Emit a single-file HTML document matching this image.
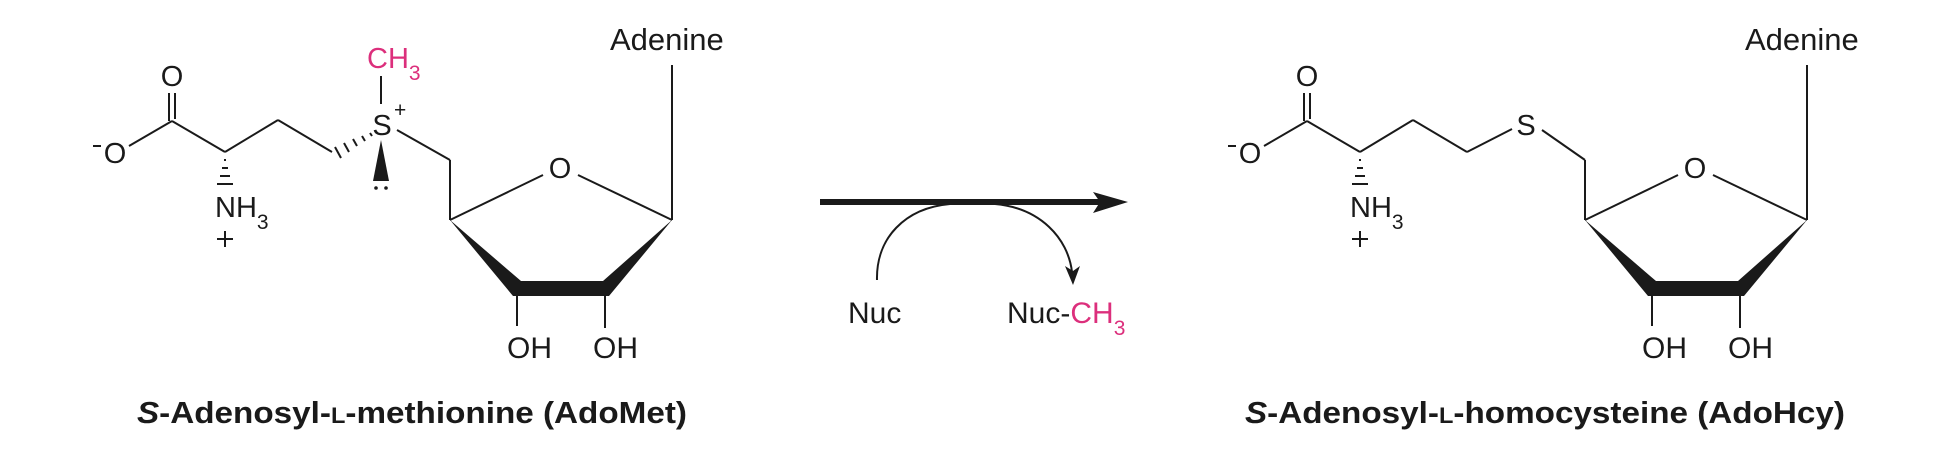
<!DOCTYPE html>
<html><head><meta charset="utf-8"><style>
html,body{margin:0;padding:0;background:#fff;}
svg{display:block;}
text{font-family:"Liberation Sans",sans-serif;fill:#1a1a1a;}
.b{font-weight:bold;}
</style></head><body>
<svg width="1937" height="465" viewBox="0 0 1937 465" xmlns="http://www.w3.org/2000/svg">
<defs>
<g id="common" stroke="#1a1a1a" stroke-width="2" fill="none">
  <line x1="169" y1="93" x2="169" y2="121"/>
  <line x1="175" y1="93" x2="175" y2="119"/>
  <line x1="172" y1="121" x2="129" y2="146"/>
  <line x1="172" y1="121" x2="225" y2="152"/>
  <line x1="225" y1="152" x2="278" y2="120"/>
  <line x1="278" y1="120" x2="332" y2="152"/>
  <line x1="224" y1="160" x2="226" y2="160"/>
  <line x1="222" y1="168" x2="228" y2="168"/>
  <line x1="220" y1="176" x2="230" y2="176"/>
  <line x1="217" y1="184" x2="233" y2="184"/>
  <line x1="217" y1="239" x2="233" y2="239"/>
  <line x1="225" y1="231" x2="225" y2="247"/>
  <line x1="93" y1="146" x2="101" y2="146"/>
  <line x1="450" y1="160" x2="450" y2="220"/>
  <line x1="450" y1="220" x2="543" y2="175"/>
  <line x1="578" y1="175" x2="672" y2="220"/>
  <line x1="672" y1="65" x2="672" y2="220"/>
  <line x1="517" y1="294" x2="517" y2="326"/>
  <line x1="605" y1="294" x2="605" y2="328"/>
  <polygon fill="#1a1a1a" stroke="none" points="450,220 521,281 603,281 672,220 609,296 513,296"/>
</g>
</defs>

<!-- Left molecule -->
<use href="#common"/>
<g stroke="#1a1a1a" stroke-width="2" fill="none">
  <line x1="335" y1="147" x2="341" y2="158"/>
  <line x1="344" y1="143" x2="349" y2="152"/>
  <line x1="353" y1="139" x2="357" y2="146"/>
  <line x1="362" y1="136" x2="365" y2="141"/>
  <line x1="370" y1="133" x2="372" y2="136"/>
  <line x1="381" y1="76" x2="381" y2="104"/>
  <line x1="397" y1="130" x2="450" y2="160"/>
</g>
<polygon fill="#1a1a1a" points="381,140 389,181 373,181"/>
<circle cx="376" cy="188" r="1.8" fill="#1a1a1a"/>
<circle cx="386" cy="188" r="1.8" fill="#1a1a1a"/>
<text x="172" y="86" font-size="29" text-anchor="middle">O</text>
<text x="115" y="163" font-size="29" text-anchor="middle">O</text>
<text x="215" y="217" font-size="29">NH<tspan font-size="21" dy="12">3</tspan></text>
<text x="382" y="135" font-size="29" text-anchor="middle">S</text>
<text x="394" y="117" font-size="21">+</text>
<text x="367" y="68" font-size="29" style="fill:#dc2f7c">CH<tspan font-size="21" dy="12">3</tspan></text>
<text x="560" y="178" font-size="29" text-anchor="middle">O</text>
<text x="610" y="50" font-size="31">Adenine</text>
<text x="507" y="358" font-size="30">OH</text>
<text x="593" y="358" font-size="30">OH</text>
<text x="137" y="423" font-size="31" class="b" textLength="550" lengthAdjust="spacingAndGlyphs"><tspan font-style="italic">S</tspan>-Adenosyl-<tspan font-size="22">L</tspan>-methionine (AdoMet)</text>

<!-- Arrow -->
<line x1="820" y1="202" x2="1100" y2="202" stroke="#1a1a1a" stroke-width="6"/>
<polygon fill="#1a1a1a" points="1093,192 1128,202 1093,213 1100,202"/>
<path d="M877,280 C876,238 905,208 950,204" stroke="#1a1a1a" stroke-width="2" fill="none"/>
<path d="M995,204 C1040,208 1068,238 1072,272" stroke="#1a1a1a" stroke-width="2" fill="none"/>
<polygon fill="#1a1a1a" points="1065,266 1073,285 1080,266 1073,271"/>
<text x="848" y="323" font-size="30">Nuc</text>
<text x="1007" y="323" font-size="30">Nuc-<tspan style="fill:#dc2f7c">CH</tspan><tspan style="fill:#dc2f7c" font-size="21" dy="12">3</tspan></text>

<!-- Right molecule -->
<g transform="translate(1135,0)">
  <use href="#common"/>
  <g stroke="#1a1a1a" stroke-width="2" fill="none">
    <line x1="332" y1="152" x2="377" y2="129"/>
    <line x1="407" y1="130" x2="450" y2="160"/>
  </g>
  <text x="172" y="86" font-size="29" text-anchor="middle">O</text>
  <text x="115" y="163" font-size="29" text-anchor="middle">O</text>
  <text x="215" y="217" font-size="29">NH<tspan font-size="21" dy="12">3</tspan></text>
  <text x="391" y="135" font-size="29" text-anchor="middle">S</text>
  <text x="560" y="178" font-size="29" text-anchor="middle">O</text>
  <text x="610" y="50" font-size="31">Adenine</text>
  <text x="507" y="358" font-size="30">OH</text>
  <text x="593" y="358" font-size="30">OH</text>
</g>
<text x="1245" y="423" font-size="31" class="b" textLength="600" lengthAdjust="spacingAndGlyphs"><tspan font-style="italic">S</tspan>-Adenosyl-<tspan font-size="22">L</tspan>-homocysteine (AdoHcy)</text>
</svg>
</body></html>
